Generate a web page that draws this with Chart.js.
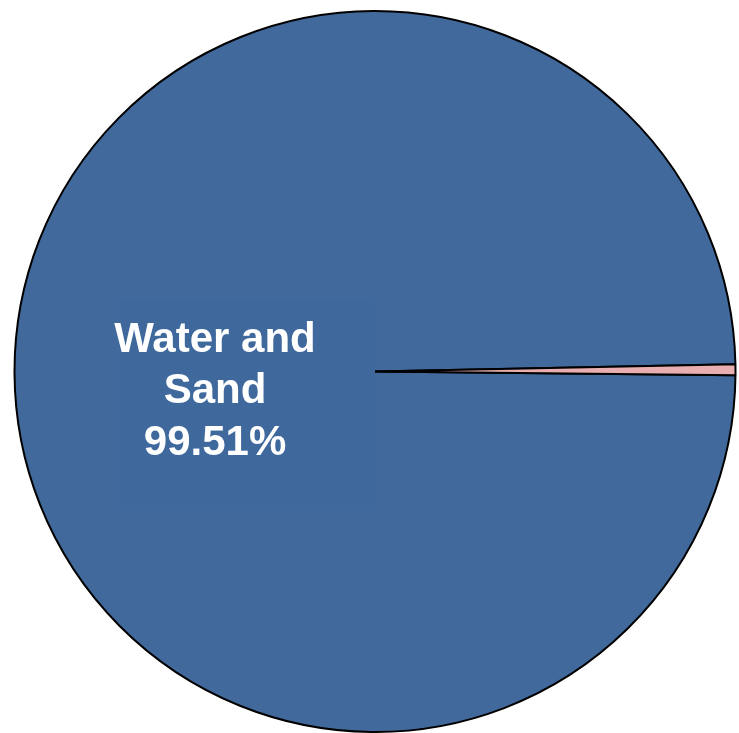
<!DOCTYPE html>
<html>
<head>
<meta charset="utf-8">
<script src="https://cdn.jsdelivr.net/npm/chart.js@4/dist/chart.umd.min.js"></script>
<style>
  html, body { margin: 0; padding: 0; background: #ffffff; }
  #wrap { width: 739px; height: 733px; }
</style>
</head>
<body>
<div id="wrap"><canvas id="ChartCanvas1"></canvas></div>
<script>
// chart data
const categories = ['Water and Sand', 'Other'];
const shares = [99.51, 0.49];
const sliceColors = ['#41699b', '#e8aeb0'];

// draws the label on the big slice, with its faint box behind it
const sliceLabel = {
    id: 'sliceLabel',
    afterDatasetsDraw(chart)
    {
        const ctx = chart.ctx;
        const arc = chart.getDatasetMeta(0).data[0];
        const cx = arc.x - 160, cy = arc.y + 32;
        ctx.save();
        ctx.fillStyle = '#3f689d';
        ctx.fillRect(arc.x - 256, arc.y - 72, 256, 210);
        ctx.fillStyle = '#ffffff';
        ctx.font = 'bold 42px "Liberation Sans", Arial, sans-serif';
        ctx.textAlign = 'center';
        ctx.textBaseline = 'alphabetic';
        const lines = ['Water and', 'Sand', shares[0].toFixed(2) + '%'];
        lines.forEach((t, i) => ctx.fillText(t, cx, cy - 52 + i * 51.5));
        ctx.restore();
    }
};

const ctx = document.getElementById('ChartCanvas1').getContext('2d');
new Chart(ctx,
{
    type: 'pie',
    data: {
        labels: categories,
        datasets: [{
            data: shares,
            backgroundColor: sliceColors,
            borderColor: '#000000',
            borderWidth: 2
        }]
    },
    options: {
        responsive: true,
        maintainAspectRatio: false,
        animation: false,
        rotation: 90.6,
        layout: { padding: { left: 13, right: 2, top: 10, bottom: 0 } },
        plugins: {
            legend: { display: false },
            tooltip: { enabled: false }
        }
    },
    plugins: [sliceLabel]
});
</script>
</body>
</html>
